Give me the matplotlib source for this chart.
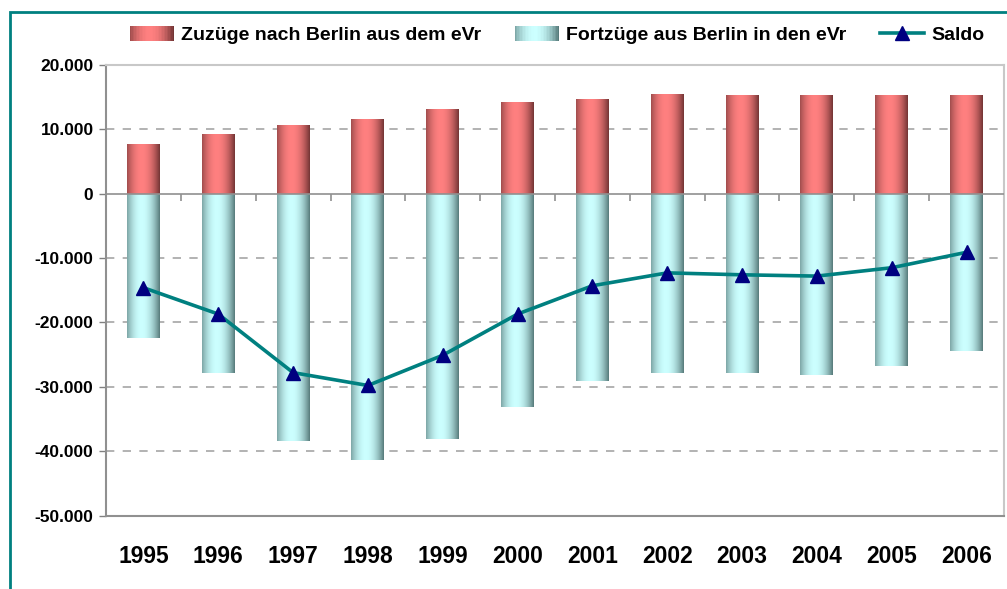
import numpy as np
import matplotlib
matplotlib.use("Agg")
import matplotlib.pyplot as plt
from matplotlib.patches import Rectangle
from matplotlib.lines import Line2D
from matplotlib.legend_handler import HandlerBase
from matplotlib.ticker import FuncFormatter
from matplotlib.colors import to_rgb

years = ["1995", "1996", "1997", "1998", "1999", "2000",
         "2001", "2002", "2003", "2004", "2005", "2006"]
zuzuege = [7750, 9300, 10700, 11600, 13100, 14300,
           14700, 15500, 15350, 15350, 15350, 15350]
fortzuege = [-22400, -27900, -38500, -41400, -38100, -33200,
             -29100, -27900, -27900, -28200, -26800, -24500]
saldo = [-14600, -18700, -27800, -29800, -25100, -18700,
         -14300, -12300, -12600, -12800, -11500, -9100]
yticks = [-50000, -40000, -30000, -20000, -10000, 0, 10000, 20000]

plt.rcParams['font.family'] = ['Liberation Sans', 'DejaVu Sans']
plt.rcParams['font.weight'] = 'bold'

RED_DARK, RED_LIGHT = "#6e3232", "#ff8080"
CYA_DARK, CYA_LIGHT = "#537676", "#ccffff"


def gradient(dark, light, n=80):
    t = np.linspace(0, 1, n)
    f = np.clip(1 - ((t - 0.45) / 0.56) ** 2, 0, 1) ** 1.0
    d = np.array(to_rgb(dark))
    l = np.array(to_rgb(light))
    return d[None, :] + (l - d)[None, :] * f[:, None]


class GradHandler(HandlerBase):
    def __init__(self, dark, light):
        super().__init__()
        self.dark, self.light = dark, light

    def create_artists(self, legend, orig_handle, xdescent, ydescent,
                       width, height, fontsize, trans):
        cols = gradient(self.dark, self.light, 30)
        n = len(cols)
        arts = []
        for i, c in enumerate(cols):
            r = Rectangle((-xdescent + width * i / n, -ydescent),
                          width / n * 1.05, height, facecolor=c,
                          edgecolor='none', transform=trans)
            arts.append(r)
        return arts


W, H = 1007, 589
fig = plt.figure(figsize=(W / 100, H / 100), dpi=100)
fig.patch.set_facecolor('white')

# outer teal frame
fig.patches.append(Rectangle((10 / W, -0.1), 1.2, 1 - 12 / H + 0.1,
                             transform=fig.transFigure, fill=False,
                             edgecolor='#008080', linewidth=2, zorder=0))

ax = fig.add_axes([106 / W, 1 - 515.5 / H, (1004 - 106) / W, (515.5 - 65) / H])
x = np.arange(len(years))
bw = 0.44

b1 = ax.bar(x, zuzuege, bw, facecolor='none', edgecolor='none', zorder=2)
b2 = ax.bar(x, fortzuege, bw, facecolor='none', edgecolor='none', zorder=2)

for bars, dark, light in [(b1, RED_DARK, RED_LIGHT), (b2, CYA_DARK, CYA_LIGHT)]:
    g = gradient(dark, light)
    for bar in bars:
        x0, w = bar.get_x(), bar.get_width()
        y0, h = bar.get_y(), bar.get_height()
        im = ax.imshow(g[None, :, :], extent=[x0, x0 + w, y0, y0 + h],
                       aspect='auto', zorder=2, interpolation='bilinear')
        im.set_clip_path(bar)

ax.plot(x, saldo, color='#008080', linewidth=2.6, marker='^',
        markersize=9.5, markerfacecolor='#000080', markeredgecolor='#000080',
        zorder=4)

ax.set_xlim(-0.5, len(years) - 0.5)
ax.set_ylim(-50000, 20000)
ax.set_yticks(yticks)
ax.yaxis.set_major_formatter(FuncFormatter(
    lambda v, p: f"{int(v):,}".replace(",", ".")))
ax.set_xticks(x)
ax.set_xticklabels(years, fontsize=16.5, fontweight='bold')
ax.tick_params(axis='x', length=0, pad=21)
ax.tick_params(axis='y', length=5, width=1, color='#808080',
               labelsize=12.5, pad=4)
for lab in ax.get_yticklabels():
    lab.set_fontweight('bold')

for v in yticks:
    if v not in (0, 20000, -50000):
        ax.axhline(v, color='#a6a6a6', linewidth=1.2, linestyle=(0, (5, 5)),
                   zorder=1)
ax.axhline(0, color='#909090', linewidth=1.2, zorder=3)
ax.vlines(x[:-1] + 0.5, -1100, 0, color='#909090', linewidth=1.2, zorder=3)

for s in ['left', 'bottom']:
    ax.spines[s].set_color('#909090')
    ax.spines[s].set_linewidth(1.5)
for s in ['top', 'right']:
    ax.spines[s].set_color('#c8c8c8')
    ax.spines[s].set_linewidth(1.5)

h1 = Rectangle((0, 0), 1, 1)
h2 = Rectangle((0, 0), 1, 1)
h3 = Line2D([], [], color='#008080', linewidth=2.6, marker='^',
            markersize=9.5, markerfacecolor='#000080', markeredgecolor='#000080')
leg = fig.legend([h1, h2, h3],
                 ["Zuzüge nach Berlin aus dem eVr",
                  "Fortzüge aus Berlin in den eVr", "Saldo"],
                 loc='center', bbox_to_anchor=(557 / W, 1 - 35 / H),
                 ncol=3, frameon=False, fontsize=14,
                 handler_map={h1: GradHandler(RED_DARK, RED_LIGHT),
                              h2: GradHandler(CYA_DARK, CYA_LIGHT)},
                 handlelength=2.3, handleheight=0.85, handletextpad=0.36,
                 columnspacing=1.7)
for t in leg.get_texts():
    t.set_fontweight('bold')

fig.savefig("out.png", dpi=100)
